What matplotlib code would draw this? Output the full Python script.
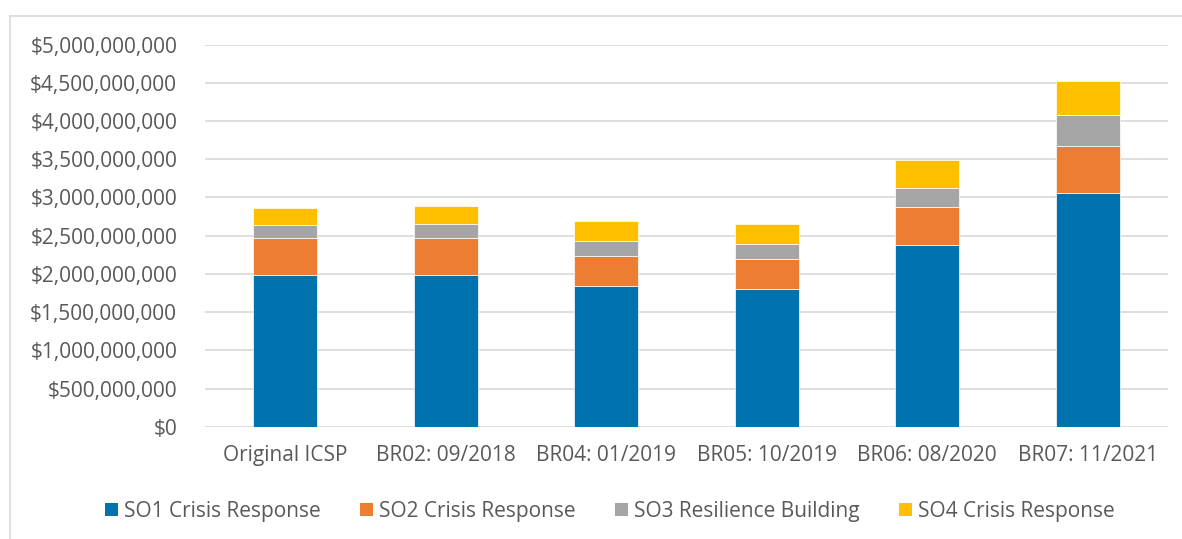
import matplotlib
matplotlib.use('Agg')
import matplotlib.pyplot as plt
from matplotlib.patches import Patch
from matplotlib.lines import Line2D
from matplotlib.ticker import FuncFormatter
import numpy as np

plt.rcParams['font.family'] = ['Open Sans', 'DejaVu Sans']

# Data (USD billions)
categories = ['Original ICSP', 'BR02: 09/2018', 'BR04: 01/2019',
              'BR05: 10/2019', 'BR06: 08/2020', 'BR07: 11/2021']
so1 = [1.99, 1.99, 1.845, 1.80, 2.38, 3.06]
so2 = [0.48, 0.485, 0.39, 0.40, 0.49, 0.615]
so3 = [0.175, 0.18, 0.20, 0.19, 0.26, 0.41]
so4 = [0.22, 0.23, 0.26, 0.265, 0.36, 0.44]
series_names = ['SO1 Crisis Response', 'SO2 Crisis Response',
                'SO3 Resilience Building', 'SO4 Crisis Response']

colors = ['#0073AE', '#ED7D31', '#A5A5A5', '#FFC000']
text_col = '#595959'
grid_col = '#D9D9D9'
fs = 15

fig = plt.figure(figsize=(11.82, 5.39), dpi=100)
ax = fig.add_axes([205/1182, 1 - 426.7/539, (1168 - 205)/1182, (426.7 - 44.7)/539])

x = np.arange(len(categories))
bottom = np.zeros(len(categories))
for vals, c in zip([so1, so2, so3, so4], colors):
    v = np.array(vals) * 1e9
    ax.bar(x, v, width=0.4, bottom=bottom, color=c,
           edgecolor='white', linewidth=0.5, zorder=3)
    bottom += v

ax.set_xlim(-0.5, len(categories) - 0.5)
ax.set_ylim(0, 5e9)
ax.set_yticks(np.arange(0, 5.01e9, 5e8))
ax.yaxis.set_major_formatter(FuncFormatter(lambda v, p: '${:,.0f}'.format(v)))
ax.set_xticks(x)
ax.set_xticklabels(categories)
ax.grid(axis='y', color=grid_col, linewidth=1.2, zorder=0)
ax.tick_params(axis='both', length=0, labelsize=fs, colors=text_col)
ax.tick_params(axis='y', pad=20)
ax.tick_params(axis='x', pad=13)
for s in ax.spines.values():
    s.set_visible(False)

# outer chart border (top and left visible)
fig.add_artist(Line2D([10/1182, 1], [1 - 16/539, 1 - 16/539],
                      transform=fig.transFigure, color=grid_col, lw=1.2))
fig.add_artist(Line2D([10/1182, 10/1182], [0, 1 - 16/539],
                      transform=fig.transFigure, color=grid_col, lw=1.2))

handles = [Patch(facecolor=c, edgecolor='none') for c in colors]
fig.legend(handles, series_names, loc='center', bbox_to_anchor=(610/1182, 1 - 511/539),
           ncol=4, frameon=False, fontsize=fs, labelcolor=text_col,
           handlelength=0.6, handleheight=0.6, handletextpad=0.3,
           columnspacing=1.9)

fig.savefig('out.png', dpi=100, facecolor='white')
